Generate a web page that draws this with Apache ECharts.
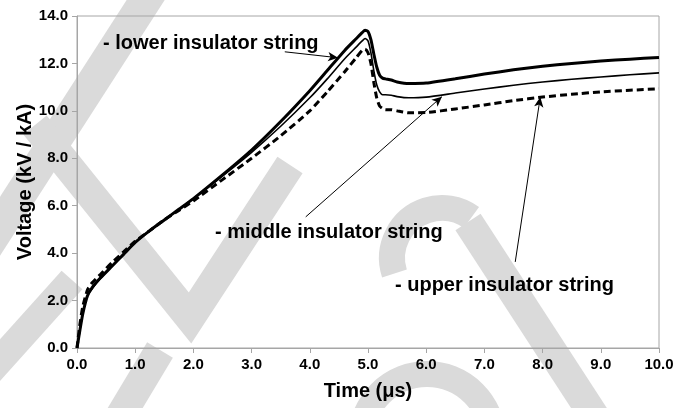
<!DOCTYPE html>
<html>
<head>
<meta charset="utf-8">
<script src="https://cdn.jsdelivr.net/npm/echarts@6/dist/echarts.min.js"></script>
<style>
  html, body { margin: 0; padding: 0; background: #ffffff; }
  #chart { width: 695px; height: 408px; }
</style>
</head>
<body>
<div id="chart"></div>
<script>
// Time axis (µs) shared by the three insulator-string curves
const timeUs = [0, 0.05, 0.1, 0.18, 0.26, 0.4, 0.6, 0.8, 1.0, 1.25, 1.5, 1.75, 2.0, 2.5, 3.0, 3.5, 4.0, 4.3, 4.6, 4.8, 4.9, 4.95, 5.0, 5.05, 5.1, 5.15, 5.2, 5.25, 5.3, 5.4, 5.5, 5.7, 6.0, 6.5, 7.0, 7.5, 8.0, 8.5, 9.0, 9.5, 10.0];

// Voltage per unit current (kV / kA)
const lowerString  = [0, 0.75, 1.45, 2.2, 2.55, 2.95, 3.45, 3.95, 4.45, 4.95, 5.4, 5.85, 6.3, 7.3, 8.35, 9.55, 10.85, 11.7, 12.55, 13.05, 13.3, 13.4, 13.35, 13.0, 12.4, 11.85, 11.5, 11.38, 11.35, 11.3, 11.22, 11.15, 11.17, 11.35, 11.55, 11.73, 11.88, 12.0, 12.1, 12.18, 12.25];
const middleString = [0, 0.75, 1.45, 2.2, 2.5, 2.92, 3.45, 3.95, 4.45, 4.95, 5.4, 5.85, 6.3, 7.25, 8.25, 9.35, 10.55, 11.35, 12.2, 12.7, 12.95, 13.05, 12.95, 12.45, 11.7, 11.1, 10.8, 10.68, 10.68, 10.66, 10.6, 10.55, 10.58, 10.75, 10.92, 11.08, 11.22, 11.33, 11.43, 11.52, 11.6];
const upperString  = [0, 1.0, 1.75, 2.45, 2.75, 3.1, 3.6, 4.05, 4.5, 4.95, 5.4, 5.8, 6.2, 7.1, 8.0, 8.95, 10.0, 10.8, 11.65, 12.25, 12.55, 12.6, 12.45, 12.0, 11.2, 10.55, 10.2, 10.1, 10.05, 10.05, 10.0, 9.92, 9.93, 10.08, 10.25, 10.43, 10.58, 10.7, 10.8, 10.87, 10.93];

// Annotation texts and their pointer arrows (from text end to curve, in data units)
const stringLabels = ['- lower insulator string', '- middle insulator string', '- upper insulator string'];
const arrowFrom = [[3.57, 12.49], [3.93, 5.53], [7.53, 3.63]];
const arrowTo   = [[4.485, 12.24], [6.27, 10.6], [7.96, 10.58]];

const FONT = '"Liberation Sans", Arial, Helvetica, sans-serif';
const AXIS_GREY = '#a6a6a6';
const WM = '#dadada';

function pairs(values) {
  return timeUs.map((t, i) => [t, values[i]]);
}

function pointer(i) {
  return {
    silent: true,
    symbol: ['none', 'arrow'],
    symbolSize: [7, 10],
    label: { show: false },
    lineStyle: { color: '#000', width: 1, type: 'solid' },
    animation: false,
    data: [[{ coord: arrowFrom[i] }, { coord: arrowTo[i] }]]
  };
}

// light grey background strokes
function band(points, width) {
  return {
    type: 'polyline', silent: true, z: -1,
    shape: { points: points },
    style: { stroke: WM, lineWidth: width, fill: null, lineJoin: 'miter', lineCap: 'butt' }
  };
}
function arc(cx, cy, r, a0, a1, width) {
  return {
    type: 'arc', silent: true, z: -1,
    shape: { cx: cx, cy: cy, r: r, startAngle: a0, endAngle: a1, clockwise: true },
    style: { stroke: WM, lineWidth: width, fill: null, lineCap: 'butt' }
  };
}

function caption(text, x, y) {
  return {
    type: 'text', silent: true, z: 10,
    x: x, y: y,
    style: { text: text, font: 'bold 20px ' + FONT, fill: '#000', textVerticalAlign: 'middle', verticalAlign: 'middle' }
  };
}

const chart = echarts.init(document.getElementById('chart'), null, { renderer: 'canvas' });

chart.setOption({
  animation: false,
  backgroundColor: '#ffffff',
  grid: { left: 77, right: 36, top: 16, bottom: 60, show: true, borderColor: AXIS_GREY, borderWidth: 1, backgroundColor: 'transparent' },
  xAxis: {
    type: 'value', min: 0, max: 10, interval: 1,
    name: 'Time (\u03bcs)', nameLocation: 'middle', nameGap: 33, nameMoveOverlap: false,
    nameTextStyle: { fontFamily: FONT, fontWeight: 'bold', fontSize: 20, color: '#000' },
    axisLine: { show: true, lineStyle: { color: AXIS_GREY, width: 1 } },
    axisTick: { show: true, inside: false, length: 5, lineStyle: { color: AXIS_GREY } },
    axisLabel: { margin: 9, fontFamily: FONT, fontWeight: 'bold', fontSize: 15, color: '#000', formatter: v => v.toFixed(1) },
    splitLine: { show: false }
  },
  yAxis: {
    type: 'value', min: 0, max: 14, interval: 2,
    name: 'Voltage (kV / kA)', nameLocation: 'middle', nameGap: 42, nameMoveOverlap: false,
    nameTextStyle: { fontFamily: FONT, fontWeight: 'bold', fontSize: 20, color: '#000' },
    axisLine: { show: true, lineStyle: { color: AXIS_GREY, width: 1 } },
    axisTick: { show: true, inside: false, length: 5, lineStyle: { color: AXIS_GREY } },
    axisLabel: { margin: 9, fontFamily: FONT, fontWeight: 'bold', fontSize: 15, color: '#000', formatter: v => v.toFixed(1) },
    splitLine: { show: false }
  },
  graphic: [
    band([[165, -30], [-25, 265]], 32),
    band([[35, 125], [190, 318], [290, 165]], 30),
    band([[-25, 388], [72, 280]], 28),
    band([[112, 430], [160, 350]], 30),
    arc(427, 440, 66, Math.PI, Math.PI * 2, 26),
    arc(442, 258, 50, Math.PI * 0.9, Math.PI * 1.7, 26),
    band([[468, 222], [600, 425]], 30),
    caption(stringLabels[0], 103, 43),
    caption(stringLabels[1], 215, 232),
    caption(stringLabels[2], 395, 285)
  ],
  series: [
    {
      name: stringLabels[0], type: 'line', data: pairs(lowerString),
      showSymbol: false, smooth: 0.2, z: 4,
      lineStyle: { color: '#000', width: 3 },
      markLine: pointer(0)
    },
    {
      name: stringLabels[1], type: 'line', data: pairs(middleString),
      showSymbol: false, smooth: 0.2, z: 4,
      lineStyle: { color: '#000', width: 1.6 },
      markLine: pointer(1)
    },
    {
      name: stringLabels[2], type: 'line', data: pairs(upperString),
      showSymbol: false, smooth: 0.2, z: 4,
      lineStyle: { color: '#000', width: 3, type: [7, 4] },
      markLine: pointer(2)
    }
  ]
});
</script>
</body>
</html>
